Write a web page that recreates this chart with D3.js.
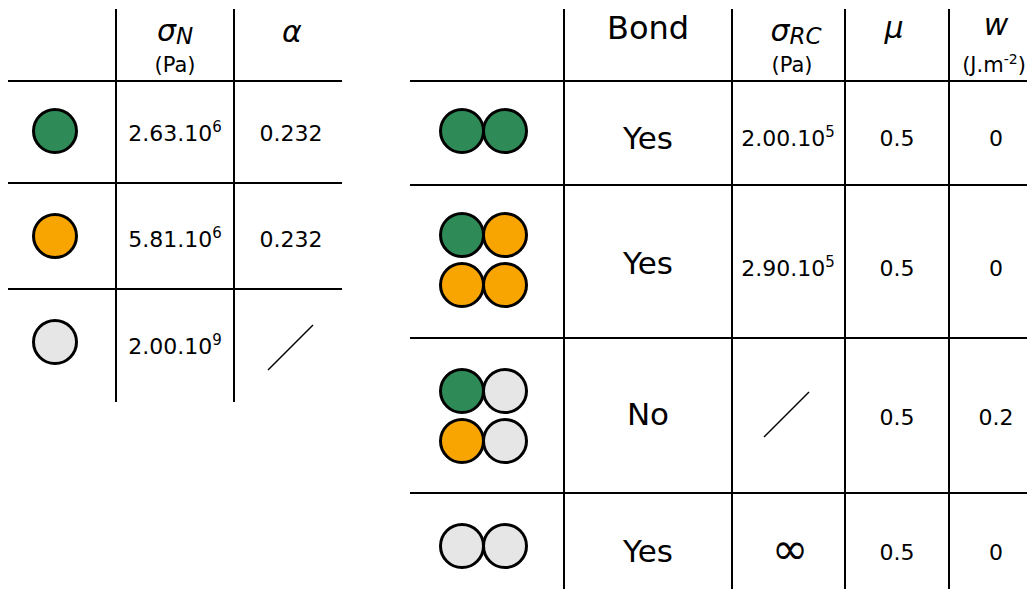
<!DOCTYPE html>
<html>
<head>
<meta charset="utf-8">
<script src="https://cdn.jsdelivr.net/npm/d3@7/dist/d3.min.js"></script>
<style>
  html, body { margin: 0; padding: 0; background: #fff; }
  svg { display: block; font-family: "DejaVu Sans", sans-serif; }
</style>
</head>
<body>
<svg id="chart" width="1027" height="589"></svg>
<script>
// ---------------- DATA ----------------
// Left table: grain types
const leftGrains = [["green"], ["orange"], ["grey"]];
const leftSigmaMant = ["2.63", "5.81", "2.00"];
const leftSigmaExp = ["6", "6", "9"];
const leftAlpha = ["0.232", "0.232", null];   // null -> slash

// Right table: contact types (rows of grain pairs)
const rightGrains = [
  [["green", "green"]],
  [["green", "orange"], ["orange", "orange"]],
  [["green", "grey"], ["orange", "grey"]],
  [["grey", "grey"]]
];
const bondValues = ["Yes", "Yes", "No", "Yes"];
const sigmaRcMant = ["2.00", "2.90", null, "inf"];
const sigmaRcExp = ["5", "5", null, null];
const muValues = ["0.5", "0.5", "0.5", "0.5"];
const wValues = ["0", "0", "0.2", "0"];

// ---------------- STYLE / LAYOUT ----------------
const fillColor = d3.scaleOrdinal()
  .domain(["green", "orange", "grey"])
  .range(["#2e8b57", "#f8a502", "#e6e6e6"]);

const svg = d3.select("#chart");
const LW = 2;       // table line width
const R = 21.5;     // grain radius
const numSize = 22;
const supSize = 15;
const unitSize = 21;

// Left table layout
const Lx = d3.scaleOrdinal().domain(["grain", "sigma", "alpha"]).range([55, 175, 291]);
const LrowCenter = d3.scaleOrdinal().domain([0, 1, 2]).range([131, 236, 342]);
const LrowBase = d3.scaleOrdinal().domain([0, 1, 2]).range([141, 247, 354]);

const gL = svg.append("g");
// lines
[81, 183, 289].forEach(y => gL.append("line").attr("x1", 8).attr("x2", 342).attr("y1", y).attr("y2", y));
[116, 234].forEach(x => gL.append("line").attr("x1", x).attr("x2", x).attr("y1", 9).attr("y2", 402));
gL.selectAll("line").attr("stroke", "#000").attr("stroke-width", LW);

// headers
const hL1 = gL.append("text").attr("x", Lx("sigma")).attr("y", 41).attr("text-anchor", "middle")
  .attr("font-style", "italic");
hL1.append("tspan").attr("font-size", 30).text("σ");
hL1.append("tspan").attr("font-size", 23).attr("dy", 3).text("N");
gL.append("text").attr("x", Lx("sigma")).attr("y", 72).attr("text-anchor", "middle")
  .attr("font-size", unitSize).text("(Pa)");
gL.append("text").attr("x", 292).attr("y", 42).attr("text-anchor", "middle")
  .attr("font-style", "italic").attr("font-size", 30).text("α");

// rows
leftGrains.forEach((grains, i) => {
  gL.append("circle").attr("cx", Lx("grain")).attr("cy", LrowCenter(i)).attr("r", R)
    .attr("fill", fillColor(grains[0])).attr("stroke", "#000").attr("stroke-width", 3);
  const t = gL.append("text").attr("x", Lx("sigma")).attr("y", LrowBase(i))
    .attr("text-anchor", "middle").attr("font-size", numSize);
  t.append("tspan").text(leftSigmaMant[i] + ".10");
  t.append("tspan").attr("font-size", supSize).attr("dy", -9).text(leftSigmaExp[i]);
  if (leftAlpha[i] !== null) {
    gL.append("text").attr("x", Lx("alpha")).attr("y", LrowBase(i))
      .attr("text-anchor", "middle").attr("font-size", numSize).text(leftAlpha[i]);
  } else {
    gL.append("line").attr("x1", 268).attr("y1", 370).attr("x2", 313).attr("y2", 325)
      .attr("stroke", "#000").attr("stroke-width", 1.5);
  }
});

// Right table layout
const Rx = d3.scaleOrdinal().domain(["grain", "bond", "sigma", "mu", "w"]).range([483.5, 648, 788, 897, 996]);
const gR = svg.append("g");
[81, 185, 338, 493].forEach(y => gR.append("line").attr("x1", 410).attr("x2", 1027).attr("y1", y).attr("y2", y));
[564, 732, 845, 949].forEach(x => gR.append("line").attr("x1", x).attr("x2", x).attr("y1", 9).attr("y2", 589));
gR.selectAll("line").attr("stroke", "#000").attr("stroke-width", LW);

// headers
gR.append("text").attr("x", Rx("bond")).attr("y", 39).attr("text-anchor", "middle")
  .attr("font-size", 32).text("Bond");
const hR1 = gR.append("text").attr("x", 796).attr("y", 41).attr("text-anchor", "middle")
  .attr("font-style", "italic");
hR1.append("tspan").attr("font-size", 30).text("σ");
hR1.append("tspan").attr("font-size", 23).attr("dy", 3).text("RC");
gR.append("text").attr("x", 792).attr("y", 72).attr("text-anchor", "middle")
  .attr("font-size", unitSize).text("(Pa)");
gR.append("text").attr("x", 894).attr("y", 38).attr("text-anchor", "middle")
  .attr("font-style", "italic").attr("font-size", 30).text("μ");
gR.append("text").attr("x", 996).attr("y", 35).attr("text-anchor", "middle")
  .attr("font-style", "italic").attr("font-size", 30).text("w");
const hW = gR.append("text").attr("x", 994).attr("y", 72).attr("text-anchor", "middle")
  .attr("font-size", unitSize);
hW.append("tspan").text("(J.m");
hW.append("tspan").attr("font-size", 14).attr("dy", -8).text("-2");
hW.append("tspan").attr("dy", 8).text(")");

// right rows
const pairRows = [[131], [235, 285], [391, 441], [546]];
const bondBase = [149, 274, 425, 562];
const valBase = [146, 276, 425, 560];

rightGrains.forEach((pairs, i) => {
  pairs.forEach((pair, j) => {
    pair.forEach((c, k) => {
      gR.append("circle").attr("cx", Rx("grain") + (k === 0 ? -21.5 : 21.5)).attr("cy", pairRows[i][j])
        .attr("r", R).attr("fill", fillColor(c)).attr("stroke", "#000").attr("stroke-width", 3);
    });
  });
  gR.append("text").attr("x", Rx("bond")).attr("y", bondBase[i]).attr("text-anchor", "middle")
    .attr("font-size", 31).text(bondValues[i]);
  if (sigmaRcMant[i] === null) {
    gR.append("line").attr("x1", 764).attr("y1", 437).attr("x2", 809).attr("y2", 392)
      .attr("stroke", "#000").attr("stroke-width", 1.5);
  } else if (sigmaRcMant[i] === "inf") {
    gR.append("text").attr("x", 790).attr("y", 548).attr("text-anchor", "middle")
      .attr("dominant-baseline", "central").attr("font-size", 44).text("∞");
  } else {
    const t = gR.append("text").attr("x", Rx("sigma")).attr("y", valBase[i])
      .attr("text-anchor", "middle").attr("font-size", numSize);
    t.append("tspan").text(sigmaRcMant[i] + ".10");
    t.append("tspan").attr("font-size", supSize).attr("dy", -9).text(sigmaRcExp[i]);
  }
  gR.append("text").attr("x", Rx("mu")).attr("y", valBase[i]).attr("text-anchor", "middle")
    .attr("font-size", numSize).text(muValues[i]);
  gR.append("text").attr("x", Rx("w")).attr("y", valBase[i]).attr("text-anchor", "middle")
    .attr("font-size", numSize).text(wValues[i]);
});
</script>
</body>
</html>
